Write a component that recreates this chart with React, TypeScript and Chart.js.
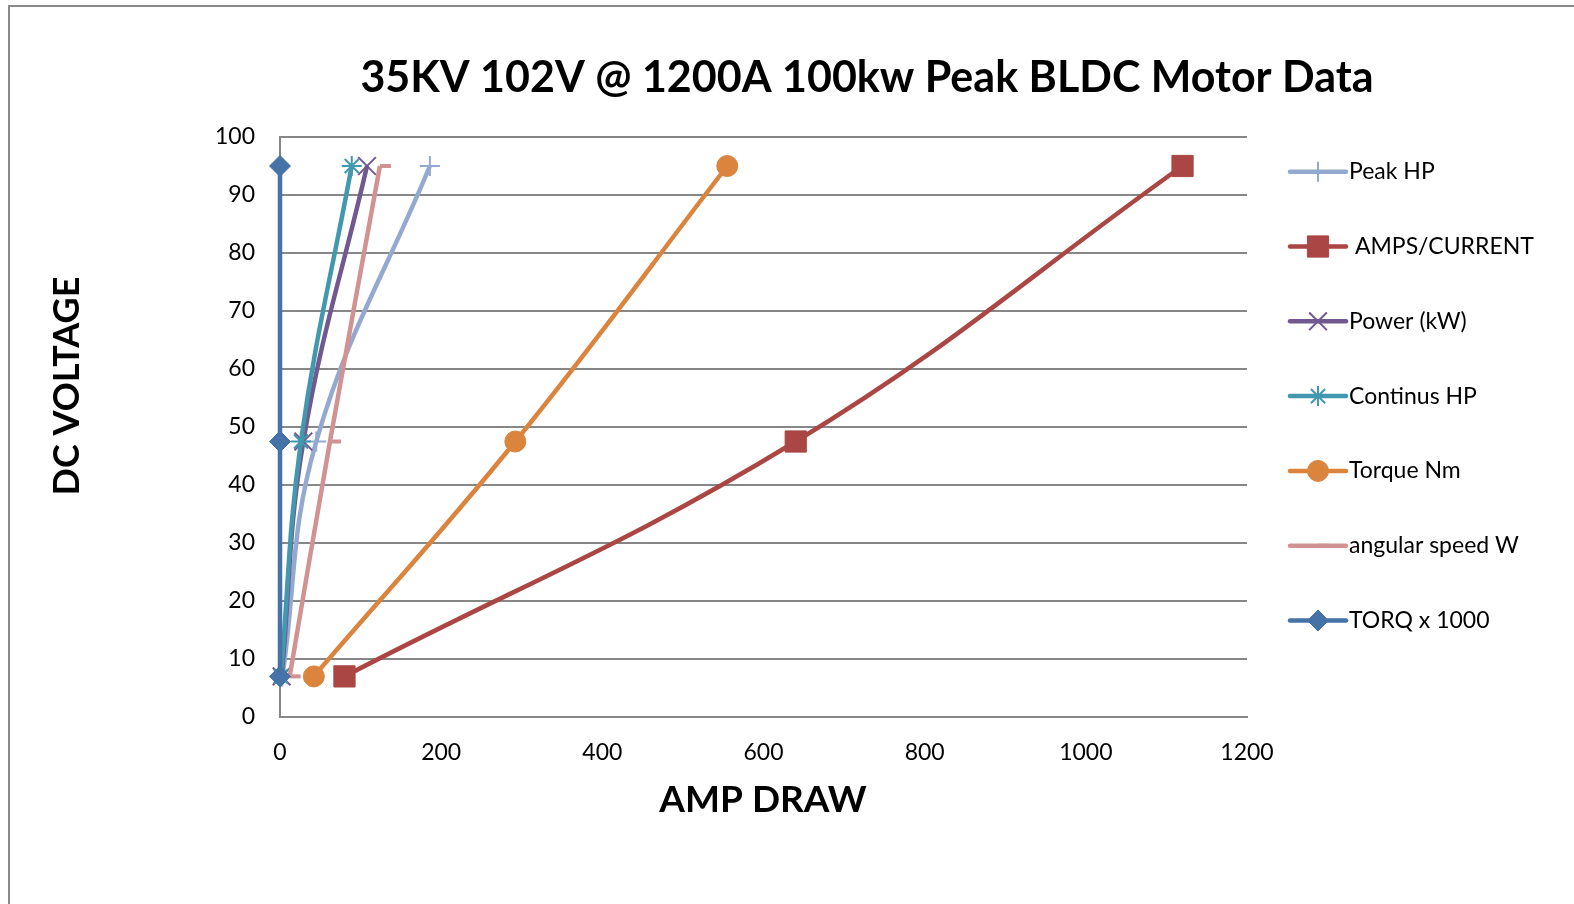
import React, { useEffect, useRef } from "react";
import { Chart, registerables } from "chart.js";
import { drawPoint } from "chart.js/helpers";

Chart.register(...registerables);

// ---- data ----
const TITLE = "35KV 102V @ 1200A 100kw Peak BLDC Motor Data";
const X_TITLE = "AMP DRAW";
const Y_TITLE = "DC VOLTAGE";

const VOLTAGE = [7, 47.5, 95];
const PEAK_HP = [3, 45, 186];
const AMPS_CURRENT = [80, 640, 1120];
const POWER_KW = [2, 29, 108];
const CONTINUS_HP = [1, 26, 89];
const TORQUE_NM = [42, 292, 555];
const ANGULAR_SPEED_W = [12, 62, 124];
const TORQ_X1000 = [0, 0, 0];

const SERIES_NAMES = [
  "Peak HP",
  " AMPS/CURRENT",
  "Power (kW)",
  "Continus HP",
  "Torque Nm",
  "angular speed W",
  "TORQ x 1000",
];
const SERIES_VALUES = [
  PEAK_HP,
  AMPS_CURRENT,
  POWER_KW,
  CONTINUS_HP,
  TORQUE_NM,
  ANGULAR_SPEED_W,
  TORQ_X1000,
];

const X_MIN = 0;
const X_MAX = 1200;
const X_STEP = 200;
const Y_MIN = 0;
const Y_MAX = 100;
const Y_STEP = 10;

// ---- styles ----
const COLORS = ["#93A9CF", "#AA4643", "#71588F", "#4198AF", "#DB843D", "#D19392", "#4572A7"];
const POINT_STYLES = ["cross", "rect", "crossRot", "star", "circle", "dash", "rectRot"];
const POINT_RADII = [10, 15, 12.5, 10, 10.5, 11, 10.5];
const POINT_BORDER = [2, 1, 2, 2, 1, 4, 1];

const FONT = "Lato, 'Open Sans', sans-serif";
const GRID = "#878787";

const textPlugin = {
  id: "excelText",
  beforeDraw(chart: any) {
    const ctx = chart.ctx;
    ctx.save();
    ctx.fillStyle = "#fff";
    ctx.fillRect(0, 0, chart.width, chart.height);
    ctx.strokeStyle = "#898989";
    ctx.lineWidth = 2;
    ctx.beginPath();
    ctx.moveTo(9, chart.height + 5);
    ctx.lineTo(9, 6);
    ctx.lineTo(chart.width + 5, 6);
    ctx.stroke();
    ctx.restore();
  },
  afterDraw(chart: any) {
    const ctx = chart.ctx;
    ctx.save();
    ctx.fillStyle = "#000";
    ctx.textAlign = "center";
    ctx.textBaseline = "middle";
    ctx.font = `bold 43px ${FONT}`;
    ctx.fillText(TITLE, 867, 78);
    ctx.font = `bold 37px ${FONT}`;
    ctx.fillText(X_TITLE, 763, 800);
    ctx.save();
    ctx.font = `bold 36px ${FONT}`;
    ctx.translate(67, 386);
    ctx.rotate(-Math.PI / 2);
    ctx.fillText(Y_TITLE, 0, 0);
    ctx.restore();

    // legend
    const x0 = 1290;
    const x1 = 1346;
    const y0 = 171.7;
    const dy = 74.8;
    chart.data.datasets.forEach((ds: any, i: number) => {
      const y = y0 + i * dy;
      ctx.strokeStyle = ds.borderColor;
      ctx.lineWidth = ds.borderWidth;
      ctx.lineCap = "round";
      ctx.beginPath();
      ctx.moveTo(x0, y);
      ctx.lineTo(x1, y);
      ctx.stroke();
      ctx.lineCap = "butt";
      ctx.fillStyle = ds.pointBackgroundColor;
      ctx.strokeStyle = ds.pointBorderColor;
      ctx.lineWidth = ds.pointBorderWidth;
      drawPoint(
        ctx,
        { pointStyle: ds.pointStyle, radius: ds.pointRadius, borderWidth: ds.pointBorderWidth, rotation: 0 } as any,
        (x0 + x1) / 2,
        y
      );
      ctx.fillStyle = "#000";
      ctx.textAlign = "left";
      ctx.textBaseline = "middle";
      ctx.font = `23px ${FONT}`;
      ctx.fillText(ds.label, x1 + 3, y);
    });
    ctx.restore();
  },
};

export default function App() {
  const ref = useRef<HTMLCanvasElement | null>(null);
  useEffect(() => {
    if (!ref.current) return;
    const datasets = SERIES_NAMES.map((name, i) => ({
      label: name,
      data: SERIES_VALUES[i].map((x, j) => ({ x, y: VOLTAGE[j] })),
      showLine: true,
      borderColor: COLORS[i],
      backgroundColor: COLORS[i],
      borderWidth: 4.5,
      tension: 0.4,
      pointStyle: POINT_STYLES[i],
      pointRadius: POINT_RADII[i],
      pointBackgroundColor: COLORS[i],
      pointBorderColor: COLORS[i],
      pointBorderWidth: POINT_BORDER[i],
      clip: false,
      order: SERIES_NAMES.length - i,
    }));
    const chart = new Chart(ref.current, {
      type: "scatter",
      data: { datasets },
      plugins: [textPlugin],
      options: {
        responsive: false,
        animation: false,
        events: [],
        layout: { padding: { top: 137, right: 327, left: 0, bottom: 0 } },
        plugins: {
          legend: { display: false },
          title: { display: false },
          tooltip: { enabled: false },
        },
        scales: {
          x: {
            type: "linear",
            min: X_MIN,
            max: X_MAX,
            ticks: {
              stepSize: X_STEP,
              padding: 22,
              color: "#000",
              font: { family: FONT, size: 23 },
              callback: (v: any) => String(v),
            },
            grid: { display: false, drawTicks: false },
            border: { display: true, color: GRID, width: 2 },
            afterFit: (s: any) => {
              s.height = 187;
            },
          },
          y: {
            type: "linear",
            min: Y_MIN,
            max: Y_MAX,
            ticks: {
              stepSize: Y_STEP,
              padding: 25,
              color: "#000",
              font: { family: FONT, size: 23 },
              callback: (v: any) => String(v),
            },
            grid: { color: GRID, lineWidth: 2, drawTicks: false },
            border: { display: true, color: GRID, width: 2 },
            afterFit: (s: any) => {
              s.width = 280;
            },
          },
        },
      } as any,
    });
    return () => chart.destroy();
  }, []);
  return (
    <canvas
      ref={ref}
      width={1574}
      height={904}
      style={{ position: "absolute", left: 0, top: 0, width: 1574, height: 904 }}
    />
  );
}
